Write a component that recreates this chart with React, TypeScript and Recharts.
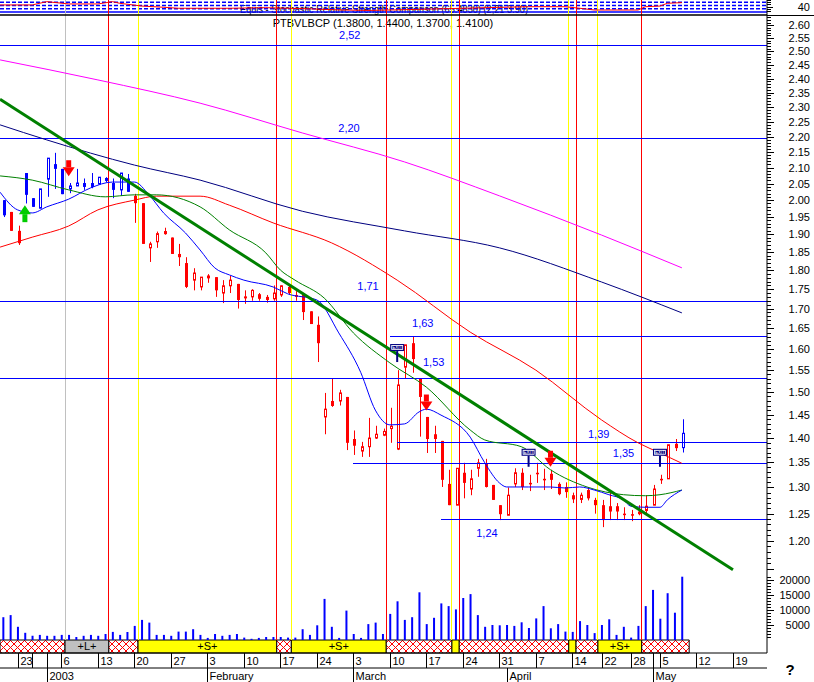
import React from "react";
import {
  ComposedChart,
  Bar,
  Line,
  Scatter,
  XAxis,
  YAxis,
  ReferenceLine,
  ReferenceArea,
} from "recharts";

const FONT = "'Liberation Sans', Arial, sans-serif";
const RED = "#ff0000";
const BLUE = "#0000ff";
const NAVY = "#000080";
const GREEN = "#008000";
const MAGENTA = "#ff00ff";
const YELLOW = "#ffff00";
const GREY = "#c0c0c0";

// trading-day index: 0 = 19 Dec 2002 ... 93 = 8 May 2003
const X_DOMAIN: [number, number] = [-0.41, 104.66];

const dayTicks = [2, 4, 6, 8, 13, 18, 23, 28, 33, 38, 43, 48, 53, 58, 63, 68, 73, 78, 82, 86, 89, 90, 95, 100];
const dayLabels = ["23", "", "", "6", "13", "20", "27", "3", "10", "17", "24", "3", "10", "17", "24", "31", "7", "14", "22", "28", "", "5", "12", "19"];
const monthTicks = [6, 28, 48, 69, 89];
const monthLabels = ["2003", "February", "March", "April", "May"];

const opens = [
  2.0, 1.965, 1.91, 2.083, 2.006, 1.976, 2.064, 2.111, 2.096, 2.034,
  2.043, 2.052, 2.052, 2.049, 2.06, 2.052, 2.031, 2.066, 2.013, 1.991,
  1.862, 1.879, 1.902, 1.891, 1.845, 1.82, 1.774, 1.756, 1.78, 1.782,
  1.74, 1.759, 1.764, 1.728, 1.73, 1.737, 1.73, 1.725, 1.735, 1.756,
  1.735, 1.738, 1.693, 1.659, 1.445, 1.48, 1.48, 1.489, 1.398, 1.373,
  1.382, 1.4, 1.406, 1.42, 1.377, 1.557, 1.614, 1.53, 1.445, 1.408,
  1.394, 1.307, 1.266, 1.329, 1.297, 1.338, 1.347, 1.305, 1.266, 1.247,
  1.307, 1.329, 1.309, 1.329, 1.317, 1.327, 1.307, 1.301, 1.285, 1.277,
  1.295, 1.276, 1.266, 1.264, 1.264, 1.25, 1.249, 1.254, 1.256, 1.266,
  1.317, 1.317, 1.388, 1.38,
];
const highs = [
  2.0, 1.965, 1.925, 2.083, 2.006, 2.034, 2.13, 2.147, 2.096, 2.052,
  2.096, 2.066, 2.083, 2.07, 2.07, 2.066, 2.083, 2.08, 2.019, 1.991,
  1.879, 1.908, 1.919, 1.891, 1.873, 1.836, 1.806, 1.782, 1.79, 1.782,
  1.774, 1.785, 1.764, 1.747, 1.75, 1.74, 1.735, 1.76, 1.76, 1.76,
  1.745, 1.738, 1.693, 1.68, 1.498, 1.53, 1.505, 1.489, 1.416, 1.392,
  1.443, 1.426, 1.42, 1.465, 1.55, 1.61, 1.63, 1.53, 1.445, 1.426,
  1.394, 1.335, 1.338, 1.349, 1.335, 1.357, 1.357, 1.305, 1.266, 1.3,
  1.338, 1.338, 1.325, 1.349, 1.337, 1.335, 1.31, 1.31, 1.29, 1.29,
  1.3, 1.28, 1.276, 1.29, 1.27, 1.262, 1.257, 1.266, 1.285, 1.305,
  1.325, 1.386, 1.398, 1.44,
];
const lows = [
  1.95, 1.91, 1.87, 1.99, 1.98, 1.976, 2.01, 2.034, 2.018, 2.021,
  2.043, 2.031, 2.036, 2.049, 2.055, 2.006, 2.013, 2.025, 1.933, 1.873,
  1.823, 1.862, 1.899, 1.845, 1.812, 1.753, 1.747, 1.747, 1.767, 1.73,
  1.714, 1.74, 1.7, 1.712, 1.72, 1.72, 1.715, 1.72, 1.73, 1.735,
  1.72, 1.671, 1.661, 1.569, 1.408, 1.467, 1.47, 1.375, 1.365, 1.361,
  1.361, 1.398, 1.404, 1.39, 1.375, 1.53, 1.544, 1.403, 1.369, 1.369,
  1.301, 1.266, 1.266, 1.279, 1.285, 1.321, 1.3, 1.276, 1.238, 1.247,
  1.301, 1.295, 1.293, 1.309, 1.295, 1.297, 1.285, 1.28, 1.27, 1.27,
  1.275, 1.25, 1.225, 1.238, 1.238, 1.238, 1.236, 1.247, 1.247, 1.266,
  1.307, 1.317, 1.373, 1.37,
];
const closes = [
  1.955, 1.91, 1.875, 2.016, 1.98, 2.034, 2.13, 2.096, 2.018, 2.043,
  2.052, 2.04, 2.04, 2.07, 2.066, 2.031, 2.083, 2.025, 1.991, 1.873,
  1.873, 1.902, 1.908, 1.845, 1.836, 1.756, 1.793, 1.782, 1.785, 1.747,
  1.759, 1.774, 1.722, 1.73, 1.747, 1.725, 1.722, 1.74, 1.759, 1.74,
  1.73, 1.691, 1.661, 1.614, 1.462, 1.469, 1.498, 1.39, 1.384, 1.382,
  1.4, 1.408, 1.414, 1.425, 1.516, 1.61, 1.576, 1.489, 1.398, 1.398,
  1.315, 1.266, 1.338, 1.309, 1.317, 1.349, 1.301, 1.276, 1.249, 1.285,
  1.329, 1.301, 1.307, 1.327, 1.315, 1.315, 1.287, 1.291, 1.277, 1.285,
  1.279, 1.266, 1.238, 1.254, 1.254, 1.249, 1.247, 1.249, 1.264, 1.297,
  1.315, 1.386, 1.379, 1.41,
];
// volume, thousands of shares
const volumes = [
  7.6, 8.3, 4.4, 2.4, 1.4, 1.7, 1.4, 1.4, 1.7, 1.7,
  1.0, 1.4, 1.7, 1.4, 2.0, 2.7, 1.7, 2.7, 4.7, 6.7,
  5.8, 1.7, 1.7, 1.4, 2.8, 2.8, 3.6, 1.7, 0.7, 2.0,
  1.4, 1.7, 2.0, 0.8, 0.4, 0.7, 1.0, 1.0, 1.0, 0.8,
  0.8, 3.6, 1.7, 4.9, 13.7, 4.4, 0.7, 9.8, 2.0, 0.7,
  5.3, 5.8, 2.0, 8.7, 12.9, 6.7, 7.6, 15.9, 5.3, 7.4,
  12.2, 11.3, 10.2, 14.0, 15.3, 8.3, 4.4, 5.0, 4.9, 5.0,
  4.7, 5.9, 4.0, 7.2, 11.3, 3.9, 5.3, 2.8, 2.7, 6.3,
  5.0, 2.3, 5.0, 6.9, 1.7, 4.4, 0.8, 4.7, 11.3, 16.7,
  7.1, 15.6, 9.1, 21.1,
];
const blueDays = [0, 3, 4, 5, 6, 7, 8, 9, 10, 11, 12, 13, 14, 15, 16, 17, 93];

// moving averages, [day, price]
const maShort = [
  [-0.4, 2.024], [2, 1.971], [4, 1.962], [6, 1.98], [9, 2.003], [12, 2.037], [15, 2.055], [18, 2.055],
  [20, 2.016], [22, 1.962], [25, 1.904], [27, 1.856], [29, 1.807], [31, 1.788], [33, 1.774], [37, 1.756],
  [39, 1.738], [43, 1.722], [46, 1.639], [49, 1.545], [51, 1.46], [53, 1.428], [55, 1.43], [57, 1.456],
  [58, 1.462], [60, 1.449], [64, 1.402], [66, 1.349], [68, 1.309], [69, 1.301], [72, 1.301], [75, 1.301],
  [77, 1.299], [79, 1.301], [81, 1.295], [83, 1.286], [85, 1.276], [86, 1.264], [88, 1.262], [90, 1.262],
  [91, 1.276], [93, 1.295],
];
const maMid = [
  [-0.4, 2.074], [4, 2.061], [9, 2.031], [14, 2.01], [18, 2.016], [21, 2.016], [27, 1.98], [31, 1.913],
  [36, 1.848], [38, 1.801], [40, 1.774], [44, 1.727], [48, 1.639], [53, 1.567], [58, 1.511], [64, 1.417],
  [66, 1.396], [71, 1.382], [75, 1.335], [80, 1.301], [85, 1.286], [88, 1.284], [90, 1.286], [93, 1.295],
];
const maLong = [
  [-0.4, 1.864], [4, 1.892], [9, 1.924], [13, 1.971], [18, 2.0], [21, 2.012], [27, 2.012], [31, 1.985],
  [37, 1.933], [45, 1.876], [54, 1.774], [64, 1.641], [73, 1.55], [82, 1.4385], [87, 1.39], [90, 1.369],
  [93, 1.348],
];
const ma100 = [
  [-0.4, 2.239], [6, 2.189], [18, 2.108], [27, 2.061], [41, 1.967], [55, 1.91], [68, 1.862], [82, 1.769],
  [93, 1.689],
];
const ma200 = [
  [-0.4, 2.468], [13, 2.395], [27, 2.313], [41, 2.212], [55, 2.118], [68, 2.013], [82, 1.898], [93, 1.807],
];
const trendLine = [[-0.41, 2.327], [100, 1.149]];

// stochastic strip at the top
const stoch = [
  [-0.4, 55], [4, 55], [6, 85], [9, 64], [13, 64], [15, 85], [16, 70], [19, 45], [22, 34], [24, 25],
  [31, 25], [36, 30], [41, 22], [46, 10], [50, 5], [55, 12], [60, 20], [66, 30], [72, 39], [77, 39],
  [79, 25], [81, 9], [87, 9], [88, 39], [90, 45], [91, 70], [93, 76],
];

// support / resistance levels
const levelPrices = [2.52, 2.195, 1.718, 1.63, 1.53, 1.39, 1.348, 1.24];
const levelFrom = [null, null, null, 53, null, 54, 48, 60];
const levelLabels = ["2,52", "2,20", "1,71", "1,63", "1,53", "1,39", "1,35", "1,24"];
const levelLabelAt = [47.5, 47.4, 50, 57.5, 59, 81.6, 85, 66.3];
const levelLabelDy = [7, 6, 12, 10, 13, 5, 6, -18];

// system signals: L = long entry, S = short entry, X = exit
const signalDays = [9, 15, 19, 38, 40, 53, 62, 63, 78, 79, 82, 88];
const signalKinds = ["L", "X", "S", "X", "S", "X", "S", "X", "S", "X", "S", "X"];
const bandEnd = 94;

const arrowDays = [3, 9, 58, 75];
const arrowPrices = [1.985, 2.073, 1.459, 1.341];
const arrowDirs = ["up", "down", "down", "down"];
const exitDays = [54, 72, 90];
const exitPrices = [1.569, 1.341, 1.341];

const priceLabelTicks = [
  1.2, 1.25, 1.3, 1.35, 1.4, 1.45, 1.5, 1.55, 1.6, 1.65, 1.7, 1.75, 1.8, 1.85, 1.9, 1.95,
  2.0, 2.05, 2.1, 2.15, 2.2, 2.25, 2.3, 2.35, 2.4, 2.45, 2.5, 2.55, 2.6,
];
const volLabelTicks = [5000, 10000, 15000, 20000];

// axis domains (log price axis over the full plot, volume + strip axes share it)
const P_DOMAIN: [number, number] = [1.01432, 2.6999];
const V_DOMAIN: [number, number] = [-4333.3, 213333.3];
const S_DOMAIN: [number, number] = [-5836.4, 100];

const rows = opens.map((o, i) => ({
  i,
  o,
  h: highs[i],
  l: lows[i],
  c: closes[i],
  vol: volumes[i] * 1000,
}));

const toPts = (arr: number[][]) => arr.map(([i, v]) => ({ i, v }));

const priceTicks: number[] = [];
for (let k = 115; k <= 263; k++) priceTicks.push(k / 100);

const Candle = (props: any) => {
  const { x, y, width, height, payload } = props;
  if (x == null || y == null) return null;
  const { o, h, l, c, i } = payload;
  const color = blueDays.includes(i) ? BLUE : RED;
  const top0 = Math.min(y, y + height);
  const hgt = Math.abs(height);
  const span = Math.log(h) - Math.log(l);
  const yAt = (v: number) => (span > 0 ? top0 + ((Math.log(h) - Math.log(v)) / span) * hgt : top0);
  const left = Math.round(x);
  const w = Math.max(3, Math.round(width));
  const cx = left + Math.floor(w / 2) + 0.5;
  const bTop = yAt(Math.max(o, c));
  const bBot = yAt(Math.min(o, c));
  const up = c >= o;
  return (
    <g>
      <line x1={cx} x2={cx} y1={top0} y2={top0 + hgt} stroke={color} strokeWidth={1} />
      {up ? (
        <rect x={left + 0.5} y={bTop} width={w - 1} height={Math.max(1, bBot - bTop)} fill="#fff" stroke={color} strokeWidth={1} />
      ) : (
        <rect x={left} y={bTop} width={w} height={Math.max(1.5, bBot - bTop)} fill={color} />
      )}
    </g>
  );
};

const PriceTick = (props: any) => {
  const { x, y, payload } = props;
  const v = payload.value;
  const major = Math.round(v * 100) % 5 === 0;
  const labelled = priceLabelTicks.some((t) => Math.abs(t - v) < 1e-6);
  const yy = Math.round(y) + 0.5;
  return (
    <g>
      <line x1={x} x2={x + (major ? 7 : 4)} y1={yy} y2={yy} stroke="#000" />
      {labelled && (
        <text x={810} y={y + 4} textAnchor="end" fontSize={11} fill="#000">
          {v.toFixed(2)}
        </text>
      )}
    </g>
  );
};

const DayTick = (props: any) => {
  const { x, y, payload } = props;
  const k = dayTicks.indexOf(payload.value);
  const xx = Math.round(x) + 0.5;
  return (
    <g>
      <line x1={xx} x2={xx} y1={y} y2={y + 15} stroke="#000" />
      <text x={xx + 2} y={y + 12} fontSize={11} fill="#000">
        {dayLabels[k]}
      </text>
    </g>
  );
};

const MonthTick = (props: any) => {
  const { x, y, payload } = props;
  const k = monthTicks.indexOf(payload.value);
  const xx = Math.round(x) + 0.5;
  return (
    <g>
      <line x1={xx} x2={xx} y1={y} y2={y + 14} stroke="#000" />
      <text x={xx + 2} y={y + 12} fontSize={11} fill="#000">
        {monthLabels[k]}
      </text>
    </g>
  );
};

const sideTick = (text: string, len: number) => (props: any) => {
  const vb = props.viewBox || {};
  const x0 = vb.x + vb.width;
  const yy = Math.round(vb.y) + 0.5;
  return (
    <g>
      <line x1={x0} x2={x0 + len} y1={yy} y2={yy} stroke="#000" />
      {text && (
        <text x={810} y={vb.y + 4} textAnchor="end" fontSize={11} fill="#000">
          {text}
        </text>
      )}
    </g>
  );
};

const renderLevelLabel = (p: any) => (
  <text x={p.cx} y={p.cy - p.payload.dy} textAnchor="middle" fontSize={11} fill={BLUE}>
    {p.payload.t}
  </text>
);

const renderArrow = (p: any) => {
  const { cx, cy, payload } = p;
  if (payload.dir === "up") {
    return (
      <g fill="#00cc00">
        <polygon points={`${cx - 6},${cy + 9} ${cx + 6},${cy + 9} ${cx},${cy}`} />
        <rect x={cx - 2.5} y={cy + 9} width={5} height={8} />
      </g>
    );
  }
  return (
    <g fill={RED}>
      <polygon points={`${cx - 6},${cy - 9} ${cx + 6},${cy - 9} ${cx},${cy}`} />
      <rect x={cx - 2.5} y={cy - 16} width={5} height={7} />
    </g>
  );
};

const renderExit = (p: any) => {
  const { cx, cy } = p;
  return (
    <g>
      <rect x={cx - 1} y={cy - 11} width={2} height={11} fill={NAVY} />
      <rect x={cx - 7} y={cy - 18} width={14} height={7} fill={NAVY} />
      <rect x={cx - 5.5} y={cy - 16.5} width={11} height={4} fill="none" stroke="#fff" strokeWidth={0.8} />
      <text x={cx} y={cy - 12.6} textAnchor="middle" fontSize={4.5} fill="#fff">
        EXIT
      </text>
    </g>
  );
};

const lineProps = {
  xAxisId: "d",
  yAxisId: "p",
  dataKey: "v",
  dot: false,
  activeDot: false,
  isAnimationActive: false,
} as const;

export default function App() {
  // signal band segments
  const bounds = [X_DOMAIN[0], ...signalDays.map((d) => d - 0.5), bandEnd];
  const states = ["X", ...signalKinds];
  const segments = states.map((s, k) => ({ s, x1: bounds[k], x2: bounds[k + 1] }));

  const levelLabelPts = levelPrices.map((p, k) => ({
    i: levelLabelAt[k],
    p,
    t: levelLabels[k],
    dy: levelLabelDy[k],
  }));
  const arrowPts = arrowDays.map((d, k) => ({ i: d, p: arrowPrices[k], dir: arrowDirs[k] }));
  const exitPts = exitDays.map((d, k) => ({ i: d, p: exitPrices[k] }));

  const volMinor: number[] = [];
  for (let v = 1000; v <= 21000; v += 1000) if (v % 5000 !== 0) volMinor.push(v);

  return (
    <div
      style={{
        position: "absolute",
        left: 0,
        top: 0,
        width: 814,
        height: 682,
        background: "#fff",
        fontFamily: FONT,
      }}
    >
      <ComposedChart width={814} height={682} data={rows} margin={{ top: 0, right: 0, bottom: 0, left: 0 }}>
        <defs>
          <pattern id="hatch" width="7" height="7" patternUnits="userSpaceOnUse">
            <rect width="7" height="7" fill="#fff" />
            <path d="M0,0 L7,7 M7,0 L0,7" stroke={RED} strokeWidth={1} />
          </pattern>
        </defs>

        <XAxis
          xAxisId="d"
          dataKey="i"
          type="number"
          domain={X_DOMAIN}
          allowDataOverflow
          ticks={dayTicks}
          interval={0}
          tick={<DayTick />}
          tickLine={false}
          tickSize={0}
          tickMargin={0}
          height={15}
          axisLine={{ stroke: "#000" }}
        />
        <XAxis
          xAxisId="m"
          dataKey="i"
          type="number"
          domain={X_DOMAIN}
          allowDataOverflow
          ticks={monthTicks}
          interval={0}
          tick={<MonthTick />}
          tickLine={false}
          tickSize={0}
          tickMargin={0}
          height={14}
          axisLine={{ stroke: "#000" }}
        />
        <XAxis xAxisId="vx" dataKey="i" type="number" domain={X_DOMAIN} allowDataOverflow hide />

        <YAxis
          yAxisId="p"
          orientation="right"
          scale="log"
          domain={P_DOMAIN}
          allowDataOverflow
          ticks={priceTicks}
          interval={0}
          tick={<PriceTick />}
          tickLine={false}
          tickSize={0}
          tickMargin={0}
          width={47}
          axisLine={{ stroke: "#000" }}
        />
        <YAxis yAxisId="v" domain={V_DOMAIN} allowDataOverflow hide />
        <YAxis yAxisId="s" domain={S_DOMAIN} allowDataOverflow hide />

        {/* signal band */}
        {segments.map((sg, k) => (
          <ReferenceArea
            key={`band-${k}`}
            xAxisId="d"
            yAxisId="v"
            x1={sg.x1}
            x2={sg.x2}
            y1={V_DOMAIN[0]}
            y2={0}
            fill={sg.s === "L" ? GREY : sg.s === "S" ? YELLOW : "url(#hatch)"}
            fillOpacity={1}
            stroke="#000"
            strokeWidth={1}
            label={
              sg.x2 - sg.x1 > 3 && sg.s !== "X"
                ? { value: sg.s === "L" ? "+L+" : "+S+", position: "center", fontSize: 11, fill: "#000" }
                : undefined
            }
          />
        ))}

        {/* strip: stochastic */}
        {[80, 50, 20].map((v) => (
          <ReferenceLine key={`sd-${v}`} xAxisId="d" yAxisId="s" y={v} stroke={BLUE} strokeWidth={1.5} strokeDasharray="4 2" />
        ))}
        <ReferenceLine xAxisId="d" yAxisId="s" y={-9.1} stroke={BLUE} strokeWidth={1.5} />
        <ReferenceLine xAxisId="d" yAxisId="s" y={40} stroke="none" label={sideTick("40", 6)} />
        {[0, 20, 60, 80, 100].map((v) => (
          <ReferenceLine key={`st-${v}`} xAxisId="d" yAxisId="s" y={v} stroke="none" label={sideTick("", 4)} />
        ))}

        {/* signal verticals */}
        {signalDays.map((d, k) => (
          <ReferenceLine
            key={`sig-${k}`}
            xAxisId="d"
            yAxisId="v"
            segment={[
              { x: d - 0.5, y: 0 },
              { x: d - 0.5, y: V_DOMAIN[1] },
            ]}
            stroke={signalKinds[k] === "L" ? GREY : signalKinds[k] === "S" ? YELLOW : RED}
            strokeWidth={1}
            shapeRendering="crispEdges"
          />
        ))}

        {/* support / resistance */}
        {levelPrices.map((p, k) =>
          levelFrom[k] == null ? (
            <ReferenceLine key={`lv-${k}`} xAxisId="d" yAxisId="p" y={p} stroke={BLUE} strokeWidth={1} shapeRendering="crispEdges" />
          ) : (
            <ReferenceLine
              key={`lv-${k}`}
              xAxisId="d"
              yAxisId="p"
              segment={[
                { x: levelFrom[k] as number, y: p },
                { x: X_DOMAIN[1], y: p },
              ]}
              stroke={BLUE}
              strokeWidth={1}
              shapeRendering="crispEdges"
            />
          )
        )}

        {/* volume axis ticks */}
        {volLabelTicks.map((v) => (
          <ReferenceLine key={`vt-${v}`} xAxisId="d" yAxisId="v" y={v} stroke="none" label={sideTick(String(v), 7)} />
        ))}
        {volMinor.map((v) => (
          <ReferenceLine key={`vm-${v}`} xAxisId="d" yAxisId="v" y={v} stroke="none" label={sideTick("", 4)} />
        ))}
        <ReferenceLine xAxisId="d" yAxisId="s" y={-36.4} stroke="#000" strokeWidth={1.5} label={sideTick("", 47)} />

        <Bar xAxisId="vx" yAxisId="v" dataKey="vol" barSize={2} fill={BLUE} isAnimationActive={false} />

        <Line {...lineProps} yAxisId="s" data={toPts(stoch)} type="linear" stroke={RED} strokeWidth={1} />

        <Line {...lineProps} data={toPts(ma200)} type="monotone" stroke={MAGENTA} strokeWidth={1} />
        <Line {...lineProps} data={toPts(ma100)} type="monotone" stroke={NAVY} strokeWidth={1} />
        <Line {...lineProps} data={toPts(maLong)} type="monotone" stroke={RED} strokeWidth={1} />
        <Line {...lineProps} data={toPts(maMid)} type="monotone" stroke={GREEN} strokeWidth={1} />
        <Line {...lineProps} data={toPts(maShort)} type="monotone" stroke={BLUE} strokeWidth={1} />

        <Bar
          xAxisId="d"
          yAxisId="p"
          dataKey={(r: any) => [r.l, r.h]}
          barSize={5}
          shape={(p: any) => <Candle {...p} />}
          activeBar={false}
          isAnimationActive={false}
        />

        <Line {...lineProps} data={toPts(trendLine)} type="linear" stroke={GREEN} strokeWidth={3} />

        <Scatter xAxisId="d" yAxisId="p" data={levelLabelPts} dataKey="p" shape={renderLevelLabel} isAnimationActive={false} />
        <Scatter xAxisId="d" yAxisId="p" data={arrowPts} dataKey="p" shape={renderArrow} isAnimationActive={false} />
        <Scatter xAxisId="d" yAxisId="p" data={exitPts} dataKey="p" shape={renderExit} isAnimationActive={false} />

        <text x={240} y={13} fontSize={11} fill="#000" textLength={288} lengthAdjust="spacingAndGlyphs">
          Equis - Stochastic Relative Strength Comparison (65.4830) (2,21 3.90)
        </text>
        <text x={383} y={27} fontSize={11} fill="#000" textAnchor="middle">
          PTBVLBCP (1.3800, 1.4400, 1.3700, 1.4100)
        </text>
        <text x={790} y={675} fontSize={15} fontWeight="bold" fill="#000" textAnchor="middle">
          ?
        </text>
      </ComposedChart>
    </div>
  );
}
